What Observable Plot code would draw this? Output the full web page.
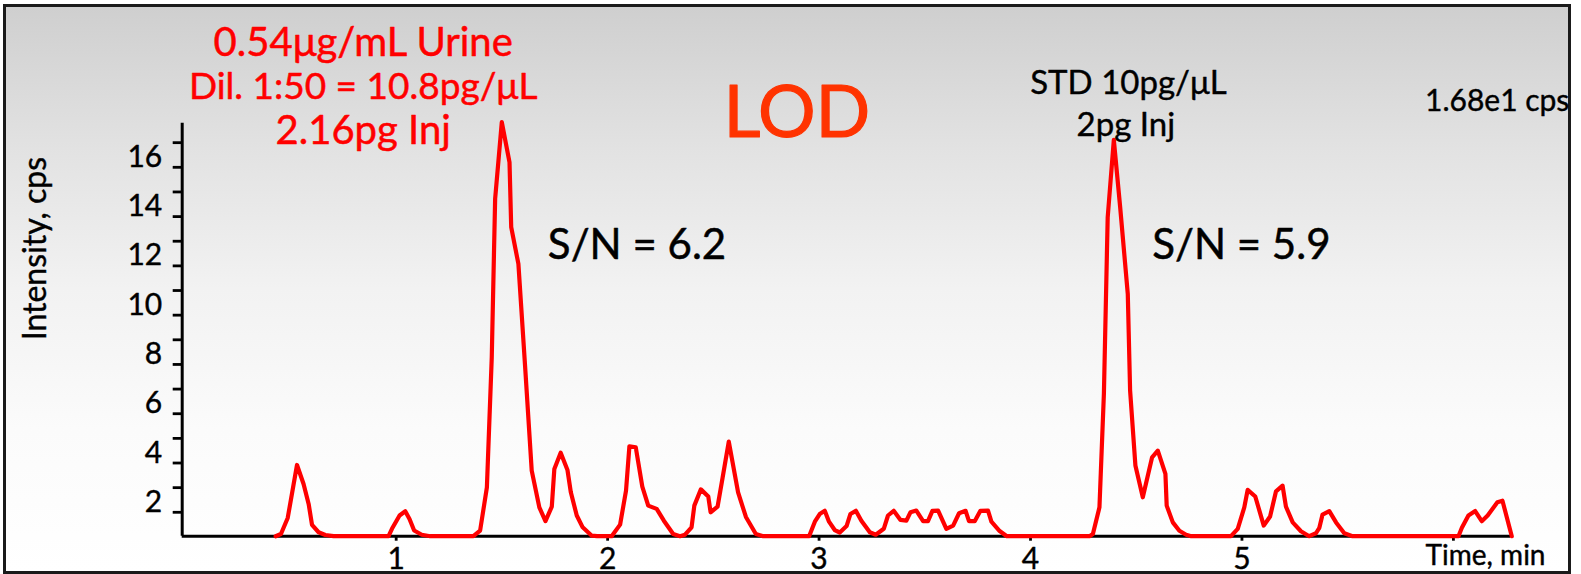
<!DOCTYPE html>
<html><head><meta charset="utf-8">
<script src="https://cdn.jsdelivr.net/npm/d3@7"></script>
<script src="https://cdn.jsdelivr.net/npm/@observablehq/plot@0.6"></script>
<style>
html,body{margin:0;padding:0;background:#fff;}
#wrap{position:relative;width:1581px;height:574px;overflow:hidden;}
#frame{position:absolute;left:3px;top:4px;width:1568px;height:570px;box-sizing:border-box;border:3px solid #1a1a1a;
  background:linear-gradient(to bottom,#cfcfcf 0%,#e2e2e2 25%,#f2f2f2 50%,#fbfbfb 75%,#ffffff 100%);}
#chart{position:absolute;left:0;top:0;}
</style></head><body><div id="wrap"><div id="frame"></div><div id="chart"></div></div>
<script>
// Chromatogram trace (time in min, intensity in cps)
const timeMin = [0.43,0.455,0.487,0.531,0.562,0.586,0.602,0.633,0.665,0.704,
  0.964,0.980,1.016,1.043,1.063,1.085,1.121,1.161,
  1.365,1.397,1.429,1.452,1.468,1.4995,1.536,1.544,1.578,1.610,1.641,1.677,1.706,1.736,1.748,1.778,1.810,1.826,1.854,1.882,1.925,1.95,
  2.019,2.059,2.087,2.103,2.133,2.164,2.192,2.232,2.266,2.310,2.342,2.366,2.397,2.410,2.441,2.476,2.487,2.520,2.544,2.573,2.617,2.654,2.701,2.736,
  2.953,2.980,3.003,3.027,3.047,3.074,3.098,3.130,3.148,3.174,3.200,3.240,3.268,3.306,3.326,3.353,3.385,3.413,3.432,3.460,3.492,3.515,3.536,3.563,3.602,3.634,3.662,3.693,3.709,3.736,3.763,3.799,3.815,3.854,3.888,
  4.279,4.295,4.326,4.347,4.365,4.394,4.424,4.460,4.471,4.496,4.531,4.575,4.602,4.638,4.644,4.673,4.704,4.736,4.76,
  4.948,4.980,5.011,5.027,5.063,5.103,5.133,5.161,5.192,5.208,5.240,5.279,5.318,5.350,5.366,5.381,5.413,5.445,5.484,5.523,
  6.024,6.040,6.071,6.103,6.134,6.162,6.208,6.232,6.276];
const intensityCps = [1.03,1.12,1.77,3.92,3.15,2.34,1.49,1.19,1.08,1.03,
  1.03,1.33,1.87,2.04,1.73,1.26,1.09,1.03,
  1.03,1.26,3.01,8.29,14.72,17.83,16.20,13.57,12.08,7.88,3.69,2.20,1.64,2.23,3.76,4.42,3.72,2.81,1.87,1.39,1.05,1.03,
  1.03,1.50,2.88,4.68,4.64,3.04,2.27,2.14,1.66,1.12,1.03,1.09,1.39,2.27,2.93,2.64,2.00,2.23,3.42,4.87,2.81,1.81,1.12,1.03,
  1.03,1.62,1.93,2.06,1.62,1.28,1.18,1.44,1.93,2.06,1.66,1.19,1.09,1.33,1.87,2.06,1.69,1.66,2.00,2.07,1.64,1.64,2.06,2.07,1.33,1.46,1.96,2.06,1.64,1.64,2.06,2.07,1.62,1.24,1.03,
  1.03,1.12,2.20,6.80,13.97,17.11,14.38,10.86,6.94,3.90,2.61,4.23,4.50,3.56,2.27,1.59,1.25,1.09,1.03,
  1.03,1.33,2.20,2.91,2.64,1.46,1.83,2.85,3.08,2.23,1.59,1.23,1.03,1.15,1.37,1.91,2.05,1.59,1.15,1.03,
  1.03,1.37,1.87,2.05,1.64,1.87,2.41,2.47,1.03];

const yMajorTicks = [2,4,6,8,10,12,14,16];
const yMinorTicks = [3,5,7,9,11,13,15,17];
const xTicks = [1,2,3,4,5,6];
const xTickLabels = [1,2,3,4,5];

const trace = timeMin.map((t,i) => ({time:t, intensity:intensityCps[i]}));

const FONT = '"Comic Sans MS", Lato, sans-serif';
const X0 = -0.012, X1 = 6.27, Y0 = 1.03, Y1 = 17.79;

const chart = Plot.plot({
  width:1581, height:574,
  marginLeft:181.7, marginRight:71, marginTop:122.7, marginBottom:38.3,
  style:{background:"transparent", fontFamily:FONT, color:"#000", overflow:"visible"},
  x:{domain:[X0,X1], label:null},
  y:{domain:[Y0,Y1], label:null},
  marks:[
    Plot.ruleX([X0], {stroke:"#000", strokeWidth:3}),
    Plot.ruleY([Y0], {stroke:"#000", strokeWidth:3}),
    Plot.axisY({ticks:yMajorTicks, tickSize:9, tickFormat:() => "", strokeWidth:2.8, label:null}),
    Plot.axisY({ticks:yMinorTicks, tickSize:9, tickFormat:() => "", strokeWidth:2.8, label:null}),
    Plot.axisX({ticks:xTicks, tickSize:5, tickFormat:() => "", strokeWidth:2.8, label:null}),
    Plot.text(yMajorTicks, {y:d => d, frameAnchor:"left", lineAnchor:"middle", dx:-20, dy:-10, textAnchor:"end", fontSize:30, fill:"#000", stroke:"#000", strokeWidth:0.4}),
    Plot.text(xTickLabels, {x:d => d, frameAnchor:"bottom", lineAnchor:"middle", dy:23, fontSize:30, fill:"#000", stroke:"#000", strokeWidth:0.4}),
    Plot.line(trace, {x:"time", y:"intensity", stroke:"#ff0000", strokeWidth:4.2, strokeLinejoin:"round", curve:"linear"}),
    Plot.text([
      {x:0.844, y:21.05, t:"0.54\u03BCg/mL Urine", s:40},
      {x:0.844, y:19.25, t:"Dil. 1:50 = 10.8pg/\u03BCL", s:37},
      {x:0.844, y:17.45, t:"2.16pg Inj", s:40}
    ], {x:"x", y:"y", text:"t", fill:"#ff0000", fontSize:"s", stroke:"#ff0000", strokeWidth:0.5}),
    Plot.text([{x:2.895, y:18.18, t:"LOD"}], {x:"x", y:"y", text:"t", fill:"#ff3300", fontSize:72, stroke:"#ff3300", strokeWidth:1.2}),
    Plot.text([
      {x:2.139, y:12.82, t:"S/N = 6.2"},
      {x:4.997, y:12.82, t:"S/N = 5.9"}
    ], {x:"x", y:"y", text:"t", fill:"#000", fontSize:42, stroke:"#000", strokeWidth:0.5}),
    Plot.text([
      {x:4.463, y:19.40, t:"STD 10pg/\u03BCL"},
      {x:4.451, y:17.69, t:"2pg Inj"}
    ], {x:"x", y:"y", text:"t", fill:"#000", fontSize:33, stroke:"#000", strokeWidth:0.4}),
    Plot.text([{x:6.207, y:18.66, t:"1.68e1 cps"}], {x:"x", y:"y", text:"t", fill:"#000", fontSize:30, stroke:"#000", strokeWidth:0.4}),
    Plot.text([{x:-0.705, y:12.70, t:"Intensity, cps"}], {x:"x", y:"y", text:"t", fill:"#000", fontSize:32, rotate:-90, stroke:"#000", strokeWidth:0.4}),
    Plot.text([{x:6.152, y:0.222, t:"Time, min"}], {x:"x", y:"y", text:"t", fill:"#000", fontSize:28, stroke:"#000", strokeWidth:0.4})
  ]
});
document.getElementById("chart").appendChild(chart);
</script></body></html>
